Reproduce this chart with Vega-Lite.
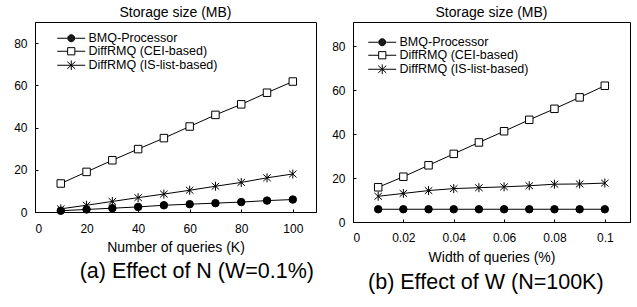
{
  "$schema": "https://vega.github.io/schema/vega-lite/v6.json",
  "background": "white",
  "padding": {"left": 13, "top": 5, "right": 5, "bottom": 5},
  "spacing": 14,
  "config": {
    "font": "Liberation Sans",
    "view": {"stroke": "black", "strokeWidth": 1},
    "axis": {"grid": false, "domainColor": "black", "tickColor": "black", "labelColor": "black", "titleColor": "black", "labelFontSize": 12, "titleFontSize": 14, "titleFontWeight": "normal", "labelFont": "Liberation Sans", "titleFont": "Liberation Sans", "tickSize": -3},
    "title": {"font": "Liberation Sans", "fontWeight": "normal", "color": "black"},
    "legend": {"labelFont": "Liberation Sans", "labelColor": "black", "padding": 0}
  },
  "datasets": {
    "a": [
      {"n": 10, "series": "BMQ-Processor", "mb": 0.6},
      {"n": 20, "series": "BMQ-Processor", "mb": 1.2},
      {"n": 30, "series": "BMQ-Processor", "mb": 1.8},
      {"n": 40, "series": "BMQ-Processor", "mb": 2.4},
      {"n": 50, "series": "BMQ-Processor", "mb": 3.2},
      {"n": 60, "series": "BMQ-Processor", "mb": 3.7},
      {"n": 70, "series": "BMQ-Processor", "mb": 4.2},
      {"n": 80, "series": "BMQ-Processor", "mb": 4.7},
      {"n": 90, "series": "BMQ-Processor", "mb": 5.4},
      {"n": 100, "series": "BMQ-Processor", "mb": 5.9},
      {"n": 10, "series": "DiffRMQ (CEI-based)", "mb": 13.5},
      {"n": 20, "series": "DiffRMQ (CEI-based)", "mb": 19},
      {"n": 30, "series": "DiffRMQ (CEI-based)", "mb": 24.5},
      {"n": 40, "series": "DiffRMQ (CEI-based)", "mb": 29.8},
      {"n": 50, "series": "DiffRMQ (CEI-based)", "mb": 35},
      {"n": 60, "series": "DiffRMQ (CEI-based)", "mb": 40.5},
      {"n": 70, "series": "DiffRMQ (CEI-based)", "mb": 46},
      {"n": 80, "series": "DiffRMQ (CEI-based)", "mb": 51},
      {"n": 90, "series": "DiffRMQ (CEI-based)", "mb": 56.5},
      {"n": 100, "series": "DiffRMQ (CEI-based)", "mb": 61.8},
      {"n": 10, "series": "DiffRMQ (IS-list-based)", "mb": 1.5},
      {"n": 20, "series": "DiffRMQ (IS-list-based)", "mb": 3.2},
      {"n": 30, "series": "DiffRMQ (IS-list-based)", "mb": 5},
      {"n": 40, "series": "DiffRMQ (IS-list-based)", "mb": 6.8},
      {"n": 50, "series": "DiffRMQ (IS-list-based)", "mb": 8.5},
      {"n": 60, "series": "DiffRMQ (IS-list-based)", "mb": 10.3},
      {"n": 70, "series": "DiffRMQ (IS-list-based)", "mb": 12.2},
      {"n": 80, "series": "DiffRMQ (IS-list-based)", "mb": 14},
      {"n": 90, "series": "DiffRMQ (IS-list-based)", "mb": 16.2},
      {"n": 100, "series": "DiffRMQ (IS-list-based)", "mb": 18}
    ],
    "b": [
      {"w": 0.01, "series": "BMQ-Processor", "mb": 5.8},
      {"w": 0.02, "series": "BMQ-Processor", "mb": 5.8},
      {"w": 0.03, "series": "BMQ-Processor", "mb": 5.8},
      {"w": 0.04, "series": "BMQ-Processor", "mb": 5.8},
      {"w": 0.05, "series": "BMQ-Processor", "mb": 5.8},
      {"w": 0.06, "series": "BMQ-Processor", "mb": 5.8},
      {"w": 0.07, "series": "BMQ-Processor", "mb": 5.8},
      {"w": 0.08, "series": "BMQ-Processor", "mb": 5.8},
      {"w": 0.09, "series": "BMQ-Processor", "mb": 5.8},
      {"w": 0.1, "series": "BMQ-Processor", "mb": 5.8},
      {"w": 0.01, "series": "DiffRMQ (CEI-based)", "mb": 15.8},
      {"w": 0.02, "series": "DiffRMQ (CEI-based)", "mb": 20.6},
      {"w": 0.03, "series": "DiffRMQ (CEI-based)", "mb": 25.8},
      {"w": 0.04, "series": "DiffRMQ (CEI-based)", "mb": 31},
      {"w": 0.05, "series": "DiffRMQ (CEI-based)", "mb": 36.2},
      {"w": 0.06, "series": "DiffRMQ (CEI-based)", "mb": 41.3},
      {"w": 0.07, "series": "DiffRMQ (CEI-based)", "mb": 46.5},
      {"w": 0.08, "series": "DiffRMQ (CEI-based)", "mb": 51.5},
      {"w": 0.09, "series": "DiffRMQ (CEI-based)", "mb": 56.7},
      {"w": 0.1, "series": "DiffRMQ (CEI-based)", "mb": 62},
      {"w": 0.01, "series": "DiffRMQ (IS-list-based)", "mb": 11.7},
      {"w": 0.02, "series": "DiffRMQ (IS-list-based)", "mb": 13},
      {"w": 0.03, "series": "DiffRMQ (IS-list-based)", "mb": 14.3},
      {"w": 0.04, "series": "DiffRMQ (IS-list-based)", "mb": 15.2},
      {"w": 0.05, "series": "DiffRMQ (IS-list-based)", "mb": 15.6},
      {"w": 0.06, "series": "DiffRMQ (IS-list-based)", "mb": 16},
      {"w": 0.07, "series": "DiffRMQ (IS-list-based)", "mb": 16.5},
      {"w": 0.08, "series": "DiffRMQ (IS-list-based)", "mb": 17.2},
      {"w": 0.09, "series": "DiffRMQ (IS-list-based)", "mb": 17.3},
      {"w": 0.1, "series": "DiffRMQ (IS-list-based)", "mb": 17.7}
    ]
  },
  "hconcat": [
    {
      "title": {"text": "(a) Effect of N (W=0.1%)", "orient": "bottom", "anchor": "middle", "fontSize": 21.5, "offset": 6, "dx": 32},
      "vconcat": [
        {
          "title": {"text": "Storage size (MB)", "fontSize": 14, "offset": 2},
          "width": 281,
          "height": 190,
          "data": {"name": "a"},
          "resolve": {"scale": {"shape": "independent", "fill": "independent"}, "legend": {"shape": "independent"}},
          "layer": [
            {
              "mark": {"type": "line", "color": "black", "strokeWidth": 1},
              "encoding": {
                "x": {"field": "n", "type": "quantitative", "scale": {"domain": [0, 109], "nice": false}, "axis": {"values": [0, 20, 40, 60, 80, 100], "title": "Number of queries (K)", "labelPadding": 14, "titlePadding": 6}},
                "y": {"field": "mb", "type": "quantitative", "scale": {"domain": [0, 90], "nice": false}, "axis": {"values": [0, 20, 40, 60, 80], "title": null, "labelPadding": 11}},
                "detail": {"field": "series"}
              }
            },
            {
              "mark": {"type": "point", "stroke": "black", "strokeWidth": 1, "opacity": 1, "size": 56},
              "encoding": {
                "x": {"field": "n", "type": "quantitative"},
                "y": {"field": "mb", "type": "quantitative"},
                "shape": {
                  "field": "series", "type": "nominal", "legend": null,
                  "scale": {"domain": ["BMQ-Processor", "DiffRMQ (CEI-based)", "DiffRMQ (IS-list-based)"], "range": ["circle", "square", "M0,-1.2L0,1.2M-1,-0.9L1,0.9M-1,0.9L1,-0.9"]}
                },
                "fill": {
                  "field": "series", "type": "nominal", "legend": null,
                  "scale": {"domain": ["BMQ-Processor", "DiffRMQ (CEI-based)", "DiffRMQ (IS-list-based)"], "range": ["black", "white", "black"]}
                }
              }
            },
            {
              "mark": {"type": "point", "stroke": "black", "strokeWidth": 1, "opacity": 0, "size": 64},
              "encoding": {
                "x": {"field": "n", "type": "quantitative"},
                "y": {"field": "mb", "type": "quantitative"},
                "shape": {
                  "field": "series", "type": "nominal",
                  "scale": {"domain": ["BMQ-Processor", "DiffRMQ (CEI-based)", "DiffRMQ (IS-list-based)"], "range": ["M-0.875,0A0.875,0.875,0,1,1,0.875,0A0.875,0.875,0,1,1,-0.875,0M-0.75,0A0.75,0.75,0,1,1,0.75,0A0.75,0.75,0,1,1,-0.75,0M-0.625,0A0.625,0.625,0,1,1,0.625,0A0.625,0.625,0,1,1,-0.625,0M-0.5,0A0.5,0.5,0,1,1,0.5,0A0.5,0.5,0,1,1,-0.5,0M-0.375,0A0.375,0.375,0,1,1,0.375,0A0.375,0.375,0,1,1,-0.375,0M-0.25,0A0.25,0.25,0,1,1,0.25,0A0.25,0.25,0,1,1,-0.25,0M-0.125,0A0.125,0.125,0,1,1,0.125,0A0.125,0.125,0,1,1,-0.125,0M-3.5,0L-1,0M1,0L3.5,0", "M-0.9,-0.9L0.9,-0.9L0.9,0.9L-0.9,0.9ZM-3.5,0L-0.9,0M0.9,0L3.5,0", "M0,-1.2L0,1.2M-1,-0.9L1,0.9M-1,0.9L1,-0.9M-3.5,0L3.5,0"]},
                  "legend": {"title": null, "orient": "none", "legendX": 30, "legendY": 10, "labelFontSize": 12.5, "symbolSize": 64, "rowPadding": 0, "labelOffset": 11, "symbolOffset": 0, "symbolStrokeColor": "black", "symbolFillColor": "white", "symbolStrokeWidth": 1, "symbolOpacity": 1}
                }
              }
            }
          ]
        }
      ]
    },
    {
      "title": {"text": "(b) Effect of W (N=100K)", "orient": "bottom", "anchor": "middle", "fontSize": 21.5, "offset": 7, "dx": 5},
      "vconcat": [
        {
          "title": {"text": "Storage size (MB)", "fontSize": 14, "offset": 2},
          "width": 277,
          "height": 200,
          "data": {"name": "b"},
          "resolve": {"scale": {"shape": "independent", "fill": "independent"}, "legend": {"shape": "independent"}},
          "layer": [
            {
              "mark": {"type": "line", "color": "black", "strokeWidth": 1},
              "encoding": {
                "x": {"field": "w", "type": "quantitative", "scale": {"domain": [0, 0.11], "nice": false}, "axis": {"values": [0, 0.02, 0.04, 0.06, 0.08, 0.1], "format": "~g", "title": "Width of queries (%)", "labelPadding": 13, "titlePadding": 7}},
                "y": {"field": "mb", "type": "quantitative", "scale": {"domain": [0, 91], "nice": false}, "axis": {"values": [0, 20, 40, 60, 80], "title": null, "labelPadding": 11}},
                "detail": {"field": "series"}
              }
            },
            {
              "mark": {"type": "point", "stroke": "black", "strokeWidth": 1, "opacity": 1, "size": 56},
              "encoding": {
                "x": {"field": "w", "type": "quantitative"},
                "y": {"field": "mb", "type": "quantitative"},
                "shape": {
                  "field": "series", "type": "nominal", "legend": null,
                  "scale": {"domain": ["BMQ-Processor", "DiffRMQ (CEI-based)", "DiffRMQ (IS-list-based)"], "range": ["circle", "square", "M0,-1.2L0,1.2M-1,-0.9L1,0.9M-1,0.9L1,-0.9"]}
                },
                "fill": {
                  "field": "series", "type": "nominal", "legend": null,
                  "scale": {"domain": ["BMQ-Processor", "DiffRMQ (CEI-based)", "DiffRMQ (IS-list-based)"], "range": ["black", "white", "black"]}
                }
              }
            },
            {
              "mark": {"type": "point", "stroke": "black", "strokeWidth": 1, "opacity": 0, "size": 64},
              "encoding": {
                "x": {"field": "w", "type": "quantitative"},
                "y": {"field": "mb", "type": "quantitative"},
                "shape": {
                  "field": "series", "type": "nominal",
                  "scale": {"domain": ["BMQ-Processor", "DiffRMQ (CEI-based)", "DiffRMQ (IS-list-based)"], "range": ["M-0.875,0A0.875,0.875,0,1,1,0.875,0A0.875,0.875,0,1,1,-0.875,0M-0.75,0A0.75,0.75,0,1,1,0.75,0A0.75,0.75,0,1,1,-0.75,0M-0.625,0A0.625,0.625,0,1,1,0.625,0A0.625,0.625,0,1,1,-0.625,0M-0.5,0A0.5,0.5,0,1,1,0.5,0A0.5,0.5,0,1,1,-0.5,0M-0.375,0A0.375,0.375,0,1,1,0.375,0A0.375,0.375,0,1,1,-0.375,0M-0.25,0A0.25,0.25,0,1,1,0.25,0A0.25,0.25,0,1,1,-0.25,0M-0.125,0A0.125,0.125,0,1,1,0.125,0A0.125,0.125,0,1,1,-0.125,0M-3.5,0L-1,0M1,0L3.5,0", "M-0.9,-0.9L0.9,-0.9L0.9,0.9L-0.9,0.9ZM-3.5,0L-0.9,0M0.9,0L3.5,0", "M0,-1.2L0,1.2M-1,-0.9L1,0.9M-1,0.9L1,-0.9M-3.5,0L3.5,0"]},
                  "legend": {"title": null, "orient": "none", "legendX": 23, "legendY": 14, "labelFontSize": 12.5, "symbolSize": 64, "rowPadding": 0, "labelOffset": 11, "symbolOffset": 0, "symbolStrokeColor": "black", "symbolFillColor": "white", "symbolStrokeWidth": 1, "symbolOpacity": 1}
                }
              }
            }
          ]
        }
      ]
    }
  ]
}
